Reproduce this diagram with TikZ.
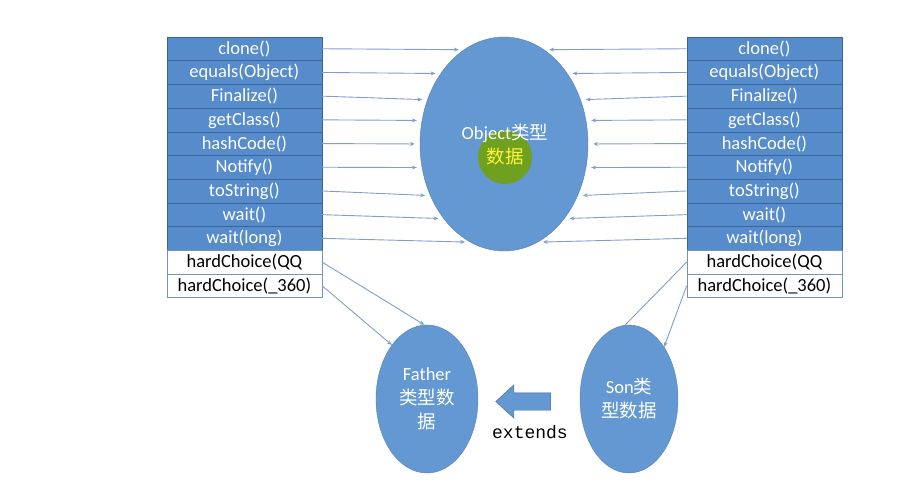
\documentclass[tikz,border=0pt]{standalone}
\usepackage{fontspec}
\setmainfont{Carlito}
\newfontfamily\cjk{Noto Sans CJK SC}
\newfontfamily\codefont{Liberation Mono}
\usetikzlibrary{arrows.meta,shapes.geometric,shapes.arrows}
\definecolor{RowBlue}{RGB}{86,140,204}
\definecolor{RowEdge}{RGB}{58,100,152}
\definecolor{BallBlue}{RGB}{99,152,210}
\definecolor{LinkBlue}{RGB}{128,158,204}
\definecolor{CursorGreen}{RGB}{112,160,32}
\tikzset{
  row base/.style={
    draw,
    rectangle,
    anchor=north west,
    minimum width=155pt,
    minimum height=23.7pt,
    inner sep=0pt,
    font=\fontsize{18.5}{20}\selectfont,
  },
  method row/.style={
    row base,
    fill=RowBlue,
    draw=RowEdge,
    text=white,
  },
  own row/.style={
    row base,
    fill=white,
    draw=RowEdge!70,
    text=black,
  },
  type ball/.style={
    ellipse,
    fill=BallBlue,
    draw=BallBlue!85!black,
    inner sep=0pt,
    text=white,
    align=center,
    font=\fontsize{18.5}{24}\selectfont,
  },
  link/.style={LinkBlue,line width=0.9pt},
  method arrow/.style={link,-{Stealth[length=5pt,width=4pt]},shorten >=5pt},
}

\begin{document}
\begin{tikzpicture}[x=1pt,y=-1pt]
\useasboundingbox (0,0) rectangle (922,498);

% method tables
\foreach \i/\t in {1/clone(),2/equals(Object),3/Finalize(),4/getClass(),5/hashCode(),6/Notify(),7/toString(),8/wait(),9/wait(long)} {
  \node[method row] (lm\i) at (166.7,{36.7+(\i-1)*23.7}) {\t};
  \node[method row] (rm\i) at (686.7,{36.7+(\i-1)*23.7}) {\t};
}
\node[own row] (lm10) at (166.7,250) {hardChoice(QQ};
\node[own row] (lm11) at (166.7,273.7) {hardChoice(\_360)};
\node[own row] (rm10) at (686.7,250) {hardChoice(QQ};
\node[own row] (rm11) at (686.7,273.7) {hardChoice(\_360)};

% type data
\node[type ball,minimum width=168pt,minimum height=214pt] (obj) at (504,144) {};
\node[circle,fill=CursorGreen,minimum size=54pt,inner sep=0pt] (hl) at (505,157) {};
\node[text=white,align=center,font=\fontsize{18.5}{24}\selectfont] (objlbl) at (505,145) {Object{\cjk 类型}\\{\color{yellow!80!white}\cjk 数据}};

\node[type ball,minimum width=102pt,minimum height=148pt] (father) at (427,399) {Father\\{\cjk 类型数}\\{\cjk 据}};
\node[type ball,minimum width=98pt,minimum height=148pt] (son) at (629,399) {Son{\cjk 类}\\{\cjk 型数据}};

\node[single arrow,shape border rotate=180,fill=BallBlue,draw=RowEdge,
  minimum height=55pt,minimum width=33pt,inner xsep=0pt,inner ysep=8.5pt,
  single arrow head extend=8pt,single arrow tip angle=85] (ext) at (528,401.5) {};
\node[font=\codefont\fontsize{18}{20}\selectfont] (extlbl) at (530,432) {extends};

\foreach \i/\a in {1/113,2/132,3/150,4/164,5/180,6/196,7/215,8/231,9/251}
  \draw[method arrow] (lm\i.east) -- (obj.\a);
\foreach \i/\a in {1/67,2/48,3/30,4/16,5/0,6/-16,7/-35,8/-51,9/-71}
  \draw[method arrow] (rm\i.west) -- (obj.\a);

\draw[method arrow,shorten >=0pt] (lm10.east) -- (father.92);
\draw[method arrow,shorten >=0pt] (lm11.east) -- (father.123);
\draw[link] (rm10.west) -- (son.93);
\draw[method arrow,shorten >=0pt] (rm11.west) -- (son.56);

\end{tikzpicture}
\end{document}
